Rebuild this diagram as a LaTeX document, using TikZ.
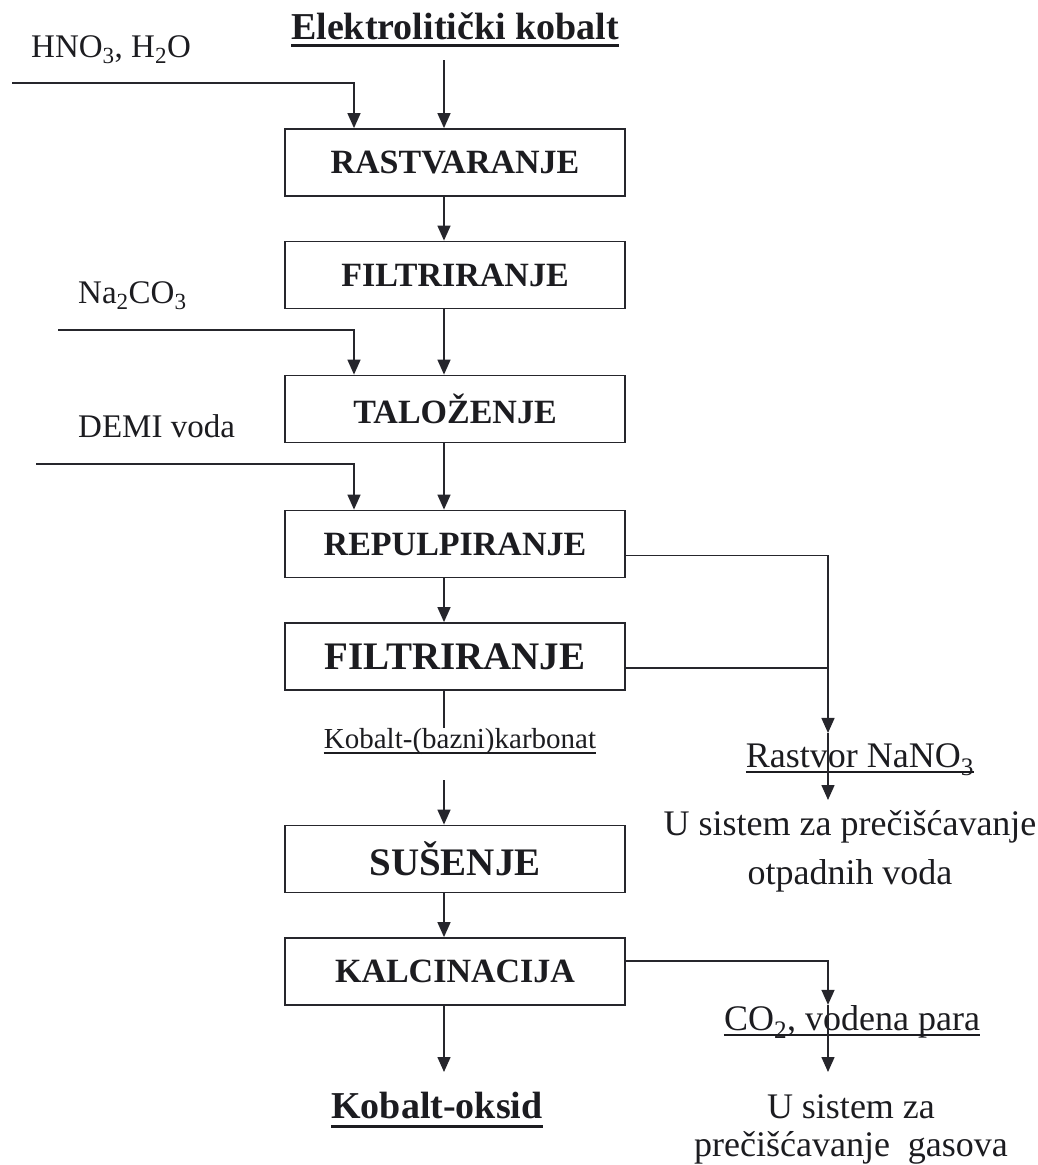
\documentclass[tikz,border=0pt]{standalone}
\usepackage{fontspec}
\setmainfont{Liberation Serif}
\usepackage{tikz}
\usetikzlibrary{arrows.meta}
\definecolor{flowInk}{HTML}{1C1C20}
\definecolor{flowLine}{HTML}{26262C}
\tikzset{
  flow diagram/.style={font=\fontsize{34}{40}\selectfont, text=flowInk,
    line join=miter},
  flow box/.style={draw=flowLine, line width=1.8pt, minimum width=340pt,
    minimum height=67pt, inner sep=0pt, font=\fontsize{34}{40}\selectfont\bfseries},
  flow big box/.style={flow box, font=\fontsize{39}{44}\selectfont\bfseries},
  flow line/.style={draw=flowLine, line width=1.5pt},
  flow arrow/.style={flow line, -{Triangle[length=15pt,width=13pt]}},
  flow label/.style={anchor=base, inner sep=0pt},
  flow feed/.style={flow label, anchor=base west, font=\fontsize{33}{38}\selectfont},
  flow out/.style={flow label, font=\fontsize{36}{40}\selectfont},
  flow product/.style={flow label, font=\fontsize{38}{44}\selectfont\bfseries},
  flow under/.style={draw=flowInk, line width=1.2pt},
  flow thick under/.style={draw=flowInk, line width=3pt}
}
\begin{document}
\begin{tikzpicture}[flow diagram,x=1pt,y=-1pt]
\useasboundingbox (0,0) rectangle (1038,1165);
% feeds and product
\node[flow product] (src) at (455,39) {Elektrolitički kobalt};
\draw[flow thick under] ([yshift=-6pt]src.base west) -- ([yshift=-6pt]src.base east);
\node[flow feed] (acid) at (31,57) {HNO\textsubscript{3}, H\textsubscript{2}O};
\node[flow feed] (soda) at (78,303) {Na\textsubscript{2}CO\textsubscript{3}};
\node[flow feed] (demi) at (78,437) {DEMI voda};
\coordinate (acid in) at (12,83);
\coordinate (soda in) at (58,330);
\coordinate (demi in) at (36,464);
% process steps
\node[flow box] (dissolve) at (455,162.5) {RASTVARANJE};
\node[flow box] (filter1) at (455,275) {FILTRIRANJE};
\node[flow box] (precip) at (455,409) {TALOŽENJE};
\node[flow box] (repulp) at (455,544) {REPULPIRANJE};
\node[flow big box] (filter2) at (455,656.5) {FILTRIRANJE};
\node[flow label, font=\fontsize{29}{34}\selectfont] (carb) at (460,748) {Kobalt-(bazni)karbonat};
\draw[flow under] ([yshift=-5pt]carb.base west) -- ([yshift=-5pt]carb.base east);
\node[flow big box] (dry) at (455,859) {SUŠENJE};
\node[flow box] (calc) at (455,971.5) {KALCINACIJA};
\node[flow product] (oxide) at (437,1118) {Kobalt-oksid};
\draw[flow thick under] ([yshift=-8pt]oxide.base west) -- ([yshift=-8pt]oxide.base east);
% main line
\draw[flow arrow] ([xshift=-11pt,yshift=-21pt]src.base) -- ([xshift=-11pt]dissolve.north);
\draw[flow arrow] ([xshift=-11pt]dissolve.south) -- ([xshift=-11pt]filter1.north);
\draw[flow arrow] ([xshift=-11pt]filter1.south) -- ([xshift=-11pt]precip.north);
\draw[flow arrow] ([xshift=-11pt]precip.south) -- ([xshift=-11pt]repulp.north);
\draw[flow arrow] ([xshift=-11pt]repulp.south) -- ([xshift=-11pt]filter2.north);
\draw[flow line] ([xshift=-11pt]filter2.south) -- ([xshift=-11pt]filter2.south |- carb.north);
\draw[flow arrow] ([xshift=-11pt,yshift=-32pt]carb.base -| dry.north) -- ([xshift=-11pt]dry.north);
\draw[flow arrow] ([xshift=-11pt]dry.south) -- ([xshift=-11pt]calc.north);
\draw[flow arrow] ([xshift=-11pt]calc.south) -- ([xshift=-11pt,yshift=46pt]oxide.base -| calc.south);
% side feeds
\draw[flow arrow] (acid in) -| ([xshift=-101pt]dissolve.north);
\draw[flow arrow] (soda in) -| ([xshift=-101pt]precip.north);
\draw[flow arrow] (demi in) -| ([xshift=-101pt]repulp.north);
% waste streams
\coordinate (drain) at (828,0);
\node[flow out] (nano) at (860,767) {Rastvor NaNO\textsubscript{3}};
\draw[flow under] ([yshift=-5pt]nano.base west) -- ([yshift=-5pt]nano.base east);
\node[flow out, anchor=north, align=center, font=\fontsize{36}{49}\selectfont] (wwater) at (850,810) {U sistem za prečišćavanje\\otpadnih voda};
\node[flow out] (co2) at (852,1030) {CO\textsubscript{2}, vodena para};
\draw[flow under] ([yshift=-5pt]co2.base west) -- ([yshift=-5pt]co2.base east);
\node[flow out, anchor=north, align=center, font=\fontsize{36}{38}\selectfont] (gas) at (851,1094) {U sistem za\\prečišćavanje\ \ gasova};
\draw[flow arrow] ([yshift=-11.5pt]repulp.east) -| ([yshift=10pt]nano.north -| drain);
\draw[flow line] ([yshift=-11.5pt]filter2.east) -- ([yshift=-11.5pt]filter2.east -| drain);
\draw[flow arrow] ([yshift=10pt]nano.north -| drain) -- ([yshift=10pt]wwater.north -| drain);
\draw[flow arrow] ([yshift=10.5pt]calc.east) -| (co2.north -| drain);
\draw[flow arrow] (co2.north -| drain) -- ([yshift=22pt]gas.north -| drain);
\end{tikzpicture}
\end{document}
